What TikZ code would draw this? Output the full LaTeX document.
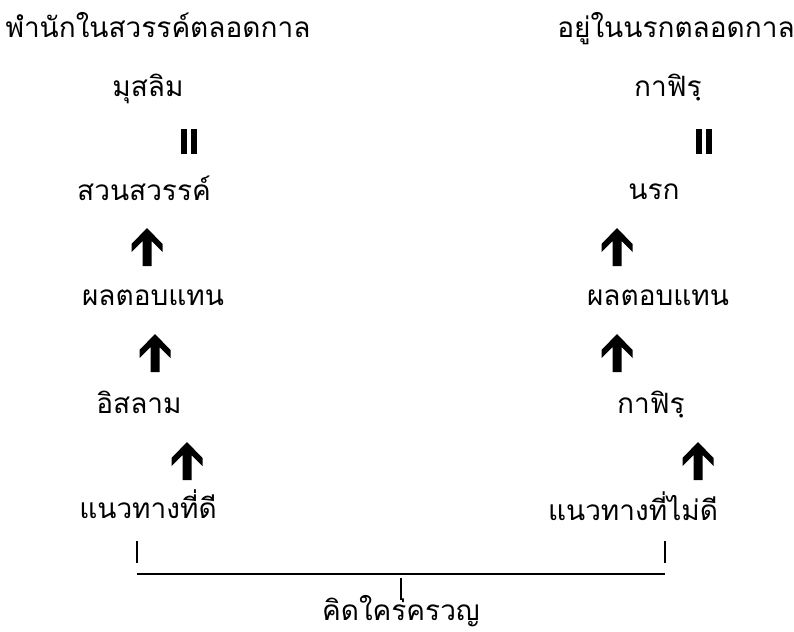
\documentclass[tikz,border=0pt]{standalone}
\usepackage{fontspec}
\newfontfamily\thaifont[Script=Thai]{Loma}
\usetikzlibrary{positioning,calc}

\tikzset{
    word/.style={font=\thaifont\fontsize{28}{34}\selectfont, inner sep=0pt, anchor=base},
    uparr/.pic={\fill (0,0) -- (15.5,16) -- (15.5,24) -- (4.5,13) -- (4.5,38) -- (-4.5,38) -- (-4.5,13) -- (-15.5,24) -- (-15.5,16) -- cycle;},
    eqbars/.pic={\fill (-8,0) rectangle (-2,25); \fill (2,0) rectangle (8,25);},
    brace/.style={line width=1.6pt}
}

\begin{document}
\begin{tikzpicture}[x=1pt, y=-1pt]
            \useasboundingbox (0,0) rectangle (794,631);

            % left column
            \node (StayHeaven) at (158,38) [word] {พำนักในสวรรค์ตลอดกาล};
            \node (Muslim) at (148,97) [word] {มุสลิม};
            \node (Heaven) at (144,200) [word] {สวนสวรรค์};
            \node (RewardL) at (153,305) [word] {ผลตอบแทน};
            \node (Islam) at (139,413) [word] {อิสลาม};
            \node (GoodWay) at (148,518) [word] {แนวทางที่ดี};

            % right column
            \node (StayHell) at (676,38) [word] {อยู่ในนรกตลอดกาล};
            \node (Kafir) at (668,97) [word] {กาฟิรฺ};
            \node (Hell) at (654,199) [word] {นรก};
            \node (RewardR) at (658,305) [word] {ผลตอบแทน};
            \node (KafirB) at (651,413) [word] {กาฟิรฺ};
            \node (BadWay) at (633,520) [word] {แนวทางที่ไม่ดี};

            \node (Think) at (401,620) [word] {คิดใคร่ครวญ};

            % equal signs and arrows
            \pic at (189,129) {eqbars};
            \pic at (704,129) {eqbars};

            \pic at (147,228) {uparr};
            \pic at (155,334) {uparr};
            \pic at (187,442) {uparr};
            \pic at (617,228) {uparr};
            \pic at (617,334) {uparr};
            \pic at (698,442) {uparr};

            % bracket
            \coordinate (LTop) at (137,541);
            \coordinate (LBot) at (137,563);
            \coordinate (RTop) at (665,541);
            \coordinate (RBot) at (665,563);
            \coordinate (BarL) at (137,574);
            \coordinate (BarR) at (665,574);
            \coordinate (MidTop) at (401,578);
            \coordinate (MidBot) at (401,600);

            \draw [brace] (LTop) -- (LBot);
            \draw [brace] (RTop) -- (RBot);
            \draw [brace] (BarL) -- (BarR);
            \draw [brace] (MidTop) -- (MidBot);
        \end{tikzpicture}
\end{document}
